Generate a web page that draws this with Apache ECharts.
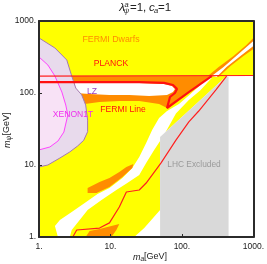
<!DOCTYPE html>
<html><head><meta charset="utf-8">
<script src="https://cdn.jsdelivr.net/npm/echarts@6/dist/echarts.min.js"></script>
<style>html,body{margin:0;padding:0;background:#fff}#c{width:267px;height:264px}</style>
</head><body><div id="c"></div>
<script>
// ---- tick labels ----
const xTickLabels = ['1.', '10.', '100.', '1000.'];
const yTickLabels = ['1.', '10.', '100.', '1000.'];

// ---- regions, [m_a (GeV), m_psi (GeV)] ----
const fermiDwarfsRegion = [[1,1],[1000,1],[1000,1000],[1,1000]];
const allowedStrip = [[1.84,1],[1.67,1.42],[1.96,1.72],[2.87,2.23],[4.36,2.97],[6.6,3.96],[9.68,4.79],[14.7,6.6],[20.2,9.09],[25.3,12.9],[31.6,20.2],[38.3,30.6],[47.9,45],[61.9,56.2],[90.9,70.3],[125,92],[172,123],[222,162],[261,162],[180,108],[125,80],[82.5,52],[56.2,26.1],[40.9,16.2],[31.6,10.7],[25.3,7.26],[17.2,5.62],[12.1,4.5],[7.5,3.27],[4.79,2.37],[3.71,1.72],[2.87,1.25],[2.7,1]];
const allowedLowRight = [[21.5,1],[29.7,1.33],[49.5,2.37],[49.5,24.5],[422,172],[1000,172],[1000,1]];
const lhcExcluded = [[49.5,1],[49.5,24.5],[422,172],[450,167],[450,1]];
const fermiLineRegion = [[2.7,172],[261,172],[125,103],[61.9,61.9],[47.9,70.3],[25.3,77.4],[13.3,77.4],[7.03,75],[4.36,70.3],[3.16,70.3]];
const lzGap = [[3.16,138],[7.03,138],[25.3,138],[56.2,133],[72.6,125],[79.9,114],[75,103],[61.9,94],[34.8,91],[18.4,94],[9.68,94],[5.11,97],[3.16,100]];
const fermiSpike = [[222,167],[327,230],[528,327],[799,464],[1000,581],[1000,409],[726,327],[479,237],[348,178],[327,167]];
const spikeGap = [[261,172],[383,230],[619,348],[1000,528],[1000,450],[660,327],[422,230],[306,167]];
const fermiPatch = [[4.79,4.79],[7.03,5.81],[9.68,6.6],[13.3,7.99],[16.7,9.38],[20.9,10.3],[20.2,9.09],[14.7,6.81],[9.68,4.95],[6.39,4.08],[4.79,4.08]];
const fermiBlob = [[4.5,1],[5.11,1.21],[7.03,1.29],[10.3,1.42],[13.3,1.52],[12.1,1.25],[10.3,1]];
const lzRegion = [[1,581],[1.67,422],[2.45,287],[2.87,172],[3.27,117],[3.96,94],[4.5,68],[4.79,42],[4.79,29],[4.22,22],[3.48,18.4],[2.7,15.2],[1.96,12.5],[1.33,10],[1,9.4]];
const xenon1tRegion = [[1,316],[1.33,245],[1.67,172],[2.09,103],[2.37,68],[2.53,49.5],[2.23,28.7],[1.84,21.5],[1.42,17.8],[1,16.2]];

// ---- curves ----
const planckFlat = [[1,172],[1000,175]];
const planckDiag = [[422,172],[297,110],[172,56.2],[125,39.6],[82.5,22.2],[51.1,10.7],[31.6,5.62],[25.3,4.5],[16.7,4.22],[13.3,2.61],[9.68,1.57],[7.03,1.33],[3.37,1.25],[2.97,1]];
const fermiLineContour = [[1,142],[7.03,142],[25.3,142],[56.2,138],[75,129],[85.2,114],[79.9,100],[68.1,88],[61.9,61.9],[125,103],[261,172]];

function area(pts, fill, z, stroke, lw) {
  return {
    type: 'custom', xAxisIndex: 0, yAxisIndex: 0, z: z, silent: true, animation: false,
    data: [pts[0]],
    renderItem: function (params, api) {
      return { type: 'polygon', shape: { points: pts.map(p => api.coord(p)) },
        style: { fill: fill, stroke: stroke || null, lineWidth: lw || 0 } };
    }
  };
}
function curve(pts, color, w, z) {
  return { type: 'line', data: pts, z: z, showSymbol: false, symbol: 'none', silent: true, animation: false,
    lineStyle: { color: color, width: w }, xAxisIndex: 0, yAxisIndex: 0 };
}
const FF = 'Liberation Sans, Arial, sans-serif';
function lab(idx, arr) { return v => arr[Math.round(Math.log10(v))] || ''; }

const axisCommon = { type: 'log', logBase: 10, min: 1, max: 1000, z: 20,
  axisLine: { show: true, lineStyle: { color: '#2b2b2b', width: 2 } },
  splitLine: { show: false } };

function txt(t, x, y, size, color, opts) {
  opts = opts || {};
  const al = opts.align || 'center';
  return { type: 'text', z: 100, style: { text: t, x: x, y: y,
    font: (opts.italic ? 'italic ' : '') + size + 'px ' + FF, fill: color,
    textAlign: al, align: al, textVerticalAlign: 'middle', verticalAlign: 'middle' } };
}

const chart = echarts.init(document.getElementById('c'), null, { renderer: 'canvas' });
chart.setOption({
  animation: false,
  grid: { left: 39, right: 12, top: 21, bottom: 27 },
  xAxis: [
    Object.assign({}, axisCommon, { position: 'bottom',
      axisTick: { show: true, inside: true, length: 3, lineStyle: { color: '#2b2b2b' } },
      axisLabel: { formatter: lab(0, xTickLabels), fontSize: 8.5, color: '#222', fontFamily: FF, margin: 5, showMinLabel: true, showMaxLabel: true } }),
    Object.assign({}, axisCommon, { position: 'top', axisTick: { show: false }, axisLabel: { show: false } })
  ],
  yAxis: [
    Object.assign({}, axisCommon, { position: 'left',
      axisTick: { show: true, inside: true, length: 3, lineStyle: { color: '#2b2b2b' } },
      axisLabel: { formatter: lab(0, yTickLabels), fontSize: 8.5, color: '#222', fontFamily: FF, margin: 3, showMinLabel: true, showMaxLabel: true } }),
    Object.assign({}, axisCommon, { position: 'right', axisTick: { show: false }, axisLabel: { show: false } })
  ],
  series: [
    area(fermiDwarfsRegion, '#FFFF00', 1),
    area(allowedStrip, '#FFFFFF', 2),
    area(allowedLowRight, '#FFFFFF', 2),
    area(lhcExcluded, '#D9D9D9', 3),
    area(fermiLineRegion, '#FF8C00', 4),
    area(fermiSpike, '#FF8C00', 4),
    area(fermiPatch, '#FF8C00', 4),
    area(fermiBlob, '#FF8C00', 4),
    area(lzGap, '#FFFFFF', 5),
    area(spikeGap, '#FFFFFF', 5),
    area(lzRegion, '#E8DAEC', 6, '#A57AAE', 1),
    area(xenon1tRegion, '#F8E2F6', 7),
    curve(xenon1tRegion, '#FF44FF', 1, 8),
    curve(planckFlat, '#FF2020', 1.2, 9),
    curve(planckDiag, '#FF2020', 1.2, 9),
    curve(fermiLineContour, '#FF1010', 2.2, 9)
  ],
  graphic: [
    txt('λ', 122, 8, 11.5, '#222', { italic: true }),
    txt('a', 126.5, 4.5, 7.5, '#222', { italic: true }),
    txt('ψ', 126.5, 11, 7.5, '#222', { italic: true }),
    txt('=1,', 130, 8, 11.5, '#222', { align: 'left' }),
    txt('c', 149, 8, 11.5, '#222', { italic: true, align: 'left' }),
    txt('a', 154, 10.5, 7.5, '#222', { italic: true, align: 'left' }),
    txt('=1', 158, 8, 11.5, '#222', { align: 'left' }),

    txt('FERMI Dwarfs', 111, 40, 8.8, '#FF8C00'),
    txt('PLANCK', 111, 64, 8.6, '#FF1010'),
    txt('LZ', 92, 92, 8.6, '#9A3FBF'),
    txt('FERMI Line', 123, 110, 8.6, '#FF1010'),
    txt('XENON1T', 73, 115, 8.6, '#EE33EE'),
    txt('LHC Excluded', 194, 165, 8.4, '#9A9A9A'),

    txt('m', 133, 257, 9, '#222', { italic: true, align: 'left' }),
    txt('a', 140.5, 259.5, 6.5, '#222', { italic: true, align: 'left' }),
    txt('[GeV]', 144, 257, 9, '#222', { align: 'left' }),

    { type: 'group', x: 7, y: 129, rotation: Math.PI / 2, z: 100, children: [
      txt('m', -19, 0, 9, '#222', { italic: true, align: 'left' }),
      txt('ψ', -11.5, 2.5, 6.5, '#222', { italic: true, align: 'left' }),
      txt('[GeV]', -6.5, 0, 9, '#222', { align: 'left' })
    ] }
  ]
});
</script></body></html>
